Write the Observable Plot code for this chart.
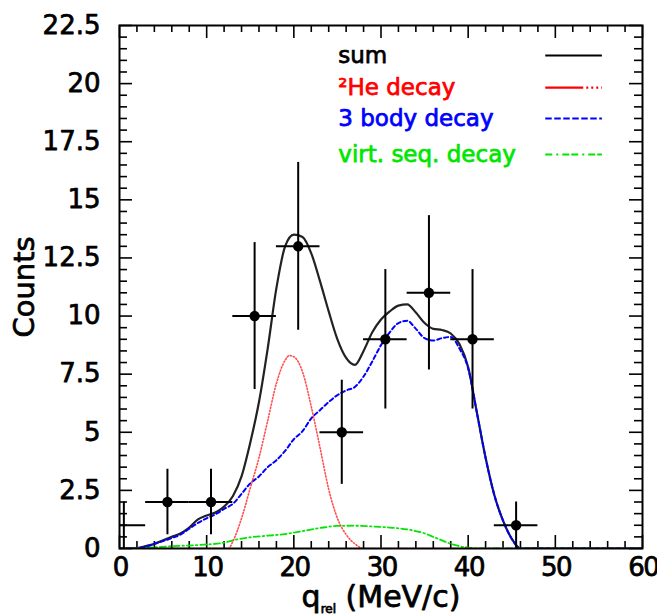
<!DOCTYPE html>
<html>
<head>
<meta charset="utf-8">
<script src="https://cdn.jsdelivr.net/npm/d3@7"></script>
<script src="https://cdn.jsdelivr.net/npm/@observablehq/plot@0.6"></script>
<style>
  html, body { margin: 0; padding: 0; background: #fff; }
  #chart svg { display: block; }
  #chart svg text { stroke-width: 0.75px; stroke-linejoin: round; }
  #chart svg g[aria-label="x-axis tick label"] text { letter-spacing: -1.5px; }
</style>
</head>
<body>
<div id="chart"></div>
<script>
// ---- data: measured points ----
const ptX    = [0.5, 5.5, 10.5, 15.5, 20.5, 25.5, 30.5, 35.5, 40.5, 45.5];
const ptY    = [1, 2, 2, 10, 13, 5, 9, 11, 9, 1];
const ptYErr = [1, 1.41, 1.41, 3.16, 3.61, 2.24, 3, 3.32, 3, 1];
const ptXErr = [2.5, 2.5, 2.5, 2.5, 2.5, 2.5, 2.5, 2.5, 2.5, 2.5];

// ---- data: model curves ----
const sumX = [0, 2, 3, 4, 5, 6, 7, 8, 9, 10, 11, 12, 13, 14, 15, 16, 17, 18, 19, 20, 21, 22, 23, 24, 25, 26, 27, 28, 29, 30, 31, 32, 33, 34, 35, 36, 37, 38, 39, 40, 41, 42, 43, 44, 45, 46, 60];
const sumY = [0, 0.02, 0.1, 0.2, 0.35, 0.5, 0.65, 0.9, 1.25, 1.42, 1.55, 1.8, 2.25, 3.1, 4.55, 6.3, 8.6, 11.2, 13.0, 13.5, 13.4, 12.7, 11.5, 10.2, 9.0, 8.2, 7.9, 8.5, 9.3, 9.85, 10.2, 10.45, 10.5, 10.15, 9.7, 9.45, 9.4, 9.25, 8.8, 7.8, 5.85, 3.9, 2.3, 1.2, 0.42, 0, 0];

const bodyX = [0, 2, 3, 4, 5, 6, 7, 8, 9, 10, 11, 12, 13, 14, 15, 16, 17, 18, 19, 20, 21, 22, 23, 24, 25, 26, 27, 28, 29, 30, 31, 32, 33, 34, 35, 36, 37, 38, 39, 40, 41, 42, 43, 44, 45, 46, 60];
const bodyY = [0, 0, 0.08, 0.2, 0.32, 0.45, 0.6, 0.85, 1.1, 1.3, 1.47, 1.7, 1.92, 2.35, 2.8, 3.1, 3.5, 3.8, 4.2, 4.7, 5.05, 5.6, 5.95, 6.3, 6.6, 6.8, 6.95, 7.4, 8.05, 8.75, 9.3, 9.7, 9.8, 9.45, 9.05, 8.95, 9.05, 9.1, 8.6, 7.75, 5.85, 3.9, 2.3, 1.2, 0.42, 0, 0];

const heX = [0, 12.5, 13, 14, 15, 16, 17, 18, 19, 19.5, 20, 21, 22, 23, 24, 25, 26, 27, 28, 60];
const heY = [0, 0, 0.3, 1.3, 2.6, 3.9, 5.5, 7.1, 8.1, 8.3, 8.25, 7.6, 6.1, 4.35, 2.55, 1.3, 0.6, 0.2, 0, 0];

const virtX = [0, 3, 6, 9, 12, 13, 15, 17, 19, 21, 23, 25, 27, 29, 31, 33, 35, 36, 37, 38, 39, 40, 41, 60];
const virtY = [0, 0.03, 0.1, 0.15, 0.25, 0.35, 0.48, 0.55, 0.62, 0.75, 0.88, 0.97, 0.98, 0.95, 0.9, 0.82, 0.65, 0.5, 0.35, 0.2, 0.1, 0.04, 0, 0];

// ---- ticks and labels ----
const xMajor = [0, 10, 20, 30, 40, 50, 60];
const xMinor = [2, 4, 6, 8, 12, 14, 16, 18, 22, 24, 26, 28, 32, 34, 36, 38, 42, 44, 46, 48, 52, 54, 56, 58];
const yMajor = [0, 2.5, 5, 7.5, 10, 12.5, 15, 17.5, 20, 22.5];
const yMinor = d3.range(0, 22.51, 0.5).filter(v => Math.abs(v / 2.5 - Math.round(v / 2.5)) > 1e-6);
const legendLabels = ["sum", "\u00B2He decay", "3 body decay", "virt. seq. decay"];
const legendColors = ["#000000", "#ff0000", "#0000ff", "#00e600"];
const xTitle = "q_rel (MeV/c)";
const yTitle = "Counts";

// ---- layout ----
const W = 657, H = 616, mL = 119, mT = 25, mR = 15, mB = 68;
const fw = W - mL - mR, fh = H - mT - mB;
const font = "'DejaVu Sans', sans-serif";

const pts = ptX.map((x, i) => ({x, y: ptY[i], ye: ptYErr[i], xe: ptXErr[i]}));
const toTable = (xs, ys) => xs.map((x, i) => ({x, y: ys[i]}));
const sumT = toTable(sumX, sumY), bodyT = toTable(bodyX, bodyY), heT = toTable(heX, heY), virtT = toTable(virtX, virtY);

// legend rows (in data units)
const legRowY = [21.21, 19.83, 18.5, 16.95];
const legend = legendLabels.map((t, i) => ({t, c: legendColors[i], y: legRowY[i]}));
const legDash = [null, "38,3,2,3,2,3,2,3,2,20", "6.5,2.5", "7,4,2,4,7,2"];

const chart = Plot.plot({
  width: W, height: H,
  marginLeft: mL, marginTop: mT, marginRight: mR, marginBottom: mB,
  style: {fontFamily: font, fontSize: "26px", color: "#000", background: "#fff"},
  x: {domain: [0, 60]},
  y: {domain: [0, 22.5]},
  marks: [
    // tick marks (inward, mirrored on all four sides)
    Plot.tickX(xMajor, {x: d => d, insetTop: fh - 13, stroke: "#000", strokeWidth: 1.6}),
    Plot.tickX(xMajor, {x: d => d, insetBottom: fh - 13, stroke: "#000", strokeWidth: 1.6}),
    Plot.tickX(xMinor, {x: d => d, insetTop: fh - 7, stroke: "#000", strokeWidth: 1.6}),
    Plot.tickX(xMinor, {x: d => d, insetBottom: fh - 7, stroke: "#000", strokeWidth: 1.6}),
    Plot.tickY(yMajor, {y: d => d, insetRight: fw - 13, stroke: "#000", strokeWidth: 1.6}),
    Plot.tickY(yMajor, {y: d => d, insetLeft: fw - 13, stroke: "#000", strokeWidth: 1.6}),
    Plot.tickY(yMinor, {y: d => d, insetRight: fw - 8, stroke: "#000", strokeWidth: 1.6}),
    Plot.tickY(yMinor, {y: d => d, insetLeft: fw - 8, stroke: "#000", strokeWidth: 1.6}),
    // tick labels
    Plot.axisX({ticks: xMajor, tickSize: 0, tickPadding: 9, label: null, fontSize: 26, dx: 0.75}),
    Plot.axisY({ticks: yMajor, tickSize: 0, tickPadding: 19, label: null, fontSize: 26, tickFormat: d => String(d)}),
    // curves
    Plot.line(sumT, {x: "x", y: "y", stroke: "#222", strokeWidth: 2.2, curve: "monotone-x", clip: true}),
    Plot.line(virtT, {x: "x", y: "y", stroke: "#00e600", strokeWidth: 1.8, strokeDasharray: "6,3,1.5,3", curve: "monotone-x", clip: true}),
    Plot.line(bodyT, {x: "x", y: "y", stroke: "#0000ff", strokeWidth: 2, strokeDasharray: "4,3", curve: "monotone-x", clip: true}),
    Plot.line(heT, {x: "x", y: "y", stroke: "#ff3030", strokeWidth: 1.6, strokeOpacity: 0.85, strokeDasharray: "1.2,2", curve: "monotone-x", clip: true}),
    // error bars and points
    Plot.ruleX(pts, {x: "x", y1: d => d.y - d.ye, y2: d => d.y + d.ye, stroke: "#000", strokeWidth: 2, clip: true}),
    Plot.ruleY(pts, {y: "y", x1: d => d.x - d.xe, x2: d => d.x + d.xe, stroke: "#000", strokeWidth: 2, clip: true}),
    Plot.dot(pts.filter(d => d.x > 1), {x: "x", y: "y", r: 5.2, fill: "#000", stroke: "none"}),
    // legend
    Plot.text(legend, {x: 25.1, y: "y", text: "t", fill: "c", textAnchor: "start", lineAnchor: "middle", fontSize: 23}),
    ...legend.map((d, i) => Plot.ruleY([d], {y: "y", x1: 48.9, x2: 55.4, stroke: d.c, strokeWidth: 2.2, strokeDasharray: legDash[i]})),
    // axis titles
    Plot.text([yTitle], {frameAnchor: "left", dx: -95, rotate: -90, text: d => d, fontSize: 29, textAnchor: "middle", lineAnchor: "middle"}),
    Plot.text([xTitle], {frameAnchor: "bottom", dy: 49, text: d => d, fontSize: 30, textAnchor: "middle", lineAnchor: "middle"}),
    Plot.frame({stroke: "#000", strokeWidth: 2})
  ]
});

// render the subscript in the x-axis title
chart.querySelectorAll("text").forEach(t => {
  if (t.textContent === xTitle) {
    t.textContent = "";
    const ns = "http://www.w3.org/2000/svg";
    const a = document.createElementNS(ns, "tspan"); a.textContent = "q";
    const b = document.createElementNS(ns, "tspan"); b.textContent = "rel"; b.setAttribute("font-size", "12"); b.setAttribute("dy", "6");
    const c = document.createElementNS(ns, "tspan"); c.textContent = " (MeV/c)"; c.setAttribute("dy", "-6");
    t.append(a, b, c);
  }
});
document.getElementById("chart").append(chart);
// embolden all text slightly (stroke in the text's own colour)
chart.querySelectorAll("text").forEach(t => {
  t.style.stroke = getComputedStyle(t).fill;
});
</script>
</body>
</html>
